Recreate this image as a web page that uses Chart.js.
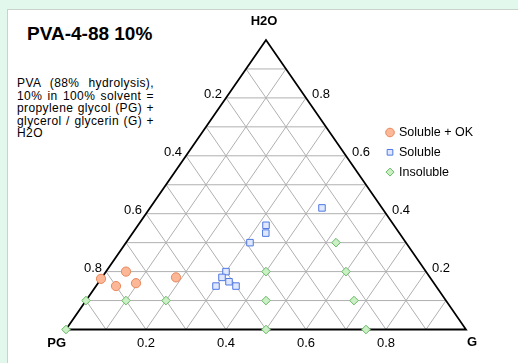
<!DOCTYPE html>
<html>
<head>
<meta charset="utf-8">
<script src="https://cdn.jsdelivr.net/npm/chart.js@4/dist/chart.umd.min.js"></script>
<style>
  html, body { margin: 0; padding: 0; }
  body { width: 518px; height: 363px; background: #e2f8ed; position: relative; overflow: hidden;
         font-family: "Liberation Sans", Arial, Helvetica, sans-serif; color: #000; }
  #panel { position: absolute; left: 7px; top: 9px; right: 0; bottom: 0; background: #fff;
           border-left: 1px solid #c9d2cc; border-top: 1px solid #c9d2cc; }
  #title { position: absolute; left: 27px; top: 23px; font-size: 19px; font-weight: bold; white-space: nowrap; }
  #desc { position: absolute; left: 17px; top: 77px; width: 137px; font-size: 12px; line-height: 12.5px; letter-spacing: 0.4px; }
  #desc div { text-align: justify; text-align-last: justify; white-space: nowrap; }
  #desc div.last { text-align-last: left; }
  #wrap { position: absolute; left: 0; top: 0; width: 518px; height: 363px; }
</style>
</head>
<body>
<div id="panel"></div>
<div id="title">PVA-4-88 10%</div>
<div id="desc">
  <div>PVA (88% hydrolysis),</div>
  <div>10% in 100% solvent =</div>
  <div>propylene glycol (PG) +</div>
  <div>glycerol / glycerin (G) +</div>
  <div class="last">H2O</div>
</div>
<div id="wrap"><canvas id="chart"></canvas></div>
<script>
// composition = fraction of G and H2O, PG is the rest (1 - G - H2O)
const okG = [0, 0.05, 0.05, 0.095, 0.185];
const okH = [0.175, 0.2, 0.15, 0.16, 0.18];

const solubleG = [0.43, 0.32, 0.333, 0.31, 0.3, 0.3, 0.325, 0.3, 0.35];
const solubleH = [0.42, 0.36, 0.333, 0.3, 0.2, 0.18, 0.165, 0.15, 0.15];

const insolubleG = [0, 0, 0.1, 0.2, 0.525, 0.4, 0.6, 0.45, 0.67, 0.5, 0.75];
const insolubleH = [0, 0.1, 0.1, 0.1, 0.3, 0.2, 0.2, 0.1, 0.1, 0, 0];

const seriesNames = ["Soluble + OK", "Soluble", "Insoluble"];
const tickValues = [0.2, 0.4, 0.6, 0.8];
const gridLevels = [0.1, 0.2, 0.3, 0.4, 0.5, 0.6, 0.7, 0.8, 0.9];
const cornerNames = ["PG", "G", "H2O"];

// ternary (g, h) -> plot coords
const tern = (g, h) => ({ x: g + h / 2, y: h });
const toPoints = (gs, hs) => gs.map((g, i) => tern(g, hs[i]));

const gridColor = "#b0b0b0";
let datasets = [];

const pointSet = (label, gs, hs, style, fill, edge, r) => ({
  type: "scatter", label: label, data: toPoints(gs, hs),
  pointStyle: style, pointRadius: r, backgroundColor: fill, borderColor: edge,
  pointBorderWidth: 1, clip: false, order: 1
});
datasets.push(pointSet(seriesNames[0], okG, okH, "circle", "#fbb796", "#e7875c", 4.6));
datasets.push(pointSet(seriesNames[1], solubleG, solubleH, "rect", "#dfe8fe", "#4f78e2", 4.6));
datasets.push(pointSet(seriesNames[2], insolubleG, insolubleH, "rectRot", "#ccf0c6", "#66b964", 4.3));

const lineSet = (pts, color, w, ord) => ({
  type: "line", data: pts, borderColor: color, borderWidth: w, pointRadius: 0,
  fill: false, clip: false, order: ord
});

// grid lines for each component
gridLevels.forEach(c => {
  datasets.push(lineSet([tern(0, c), tern(1 - c, c)], gridColor, 1, 3));   // H2O const
  datasets.push(lineSet([tern(c, 0), tern(c, 1 - c)], gridColor, 1, 3));   // G const
  datasets.push(lineSet([tern(1 - c, 0), tern(0, 1 - c)], gridColor, 1, 3)); // PG const
});
// outer triangle
datasets.push(lineSet([tern(0, 0), tern(1, 0), tern(0, 1), tern(0, 0)], "#000", 1.8, 2));

const labelsPlugin = {
  id: "ternLabels",
  afterDraw(chart) {
    const ctx = chart.ctx;
    const xs = chart.scales.x, ys = chart.scales.y;
    const px = p => [xs.getPixelForValue(p.x), ys.getPixelForValue(p.y)];
    ctx.save();
    ctx.fillStyle = "#000";
    ctx.font = "13px 'Liberation Sans', Arial, sans-serif";
    ctx.textBaseline = "middle";
    tickValues.forEach(v => {
      const t = v.toFixed(1);
      // bottom: G
      let [x, y] = px(tern(v, 0));
      ctx.textAlign = "center";
      ctx.fillText(t, x, y + 14);
      // right: H2O
      [x, y] = px(tern(1 - v, v));
      ctx.textAlign = "left";
      ctx.fillText(t, x + 6, y - 3);
      // left: PG
      [x, y] = px(tern(0, 1 - v));
      ctx.textAlign = "right";
      ctx.fillText(t, x - 4, y - 3);
    });
    ctx.font = "bold 13px 'Liberation Sans', Arial, sans-serif";
    let [x, y] = px(tern(0, 0));
    ctx.textAlign = "right";
    ctx.fillText(cornerNames[0], x, y + 14);
    [x, y] = px(tern(1, 0));
    ctx.textAlign = "left";
    ctx.fillText(cornerNames[1], x + 1, y + 13);
    [x, y] = px(tern(0, 1));
    ctx.textAlign = "center";
    ctx.fillText(cornerNames[2], x - 2, y - 19);

    // legend
    ctx.font = "12.5px 'Liberation Sans', Arial, sans-serif";
    ctx.textAlign = "left";
    for (let i = 0; i < 3; i++) {
      const ds = chart.data.datasets[i];
      const ly = 132.5 + i * 19.8;
      ctx.fillStyle = ds.backgroundColor;
      ctx.strokeStyle = ds.borderColor;
      ctx.lineWidth = 1;
      Chart.helpers.drawPoint(ctx, { pointStyle: ds.pointStyle, radius: i === 0 ? 4.3 : 4, borderWidth: 1 }, 390, ly);
      ctx.fillStyle = "#000";
      ctx.fillText(ds.label, 399, ly);
    }
    ctx.restore();
  }
};

new Chart(document.getElementById("chart"), {
  data: { datasets: datasets },
  options: {
    responsive: true,
    maintainAspectRatio: false,
    animation: false,
    events: [],
    layout: { padding: { left: 66, right: 52, top: 40, bottom: 33.5 } },
    scales: {
      x: { type: "linear", min: 0, max: 1, display: false },
      y: { type: "linear", min: 0, max: 1, display: false }
    },
    plugins: { legend: { display: false }, tooltip: { enabled: false } }
  },
  plugins: [labelsPlugin]
});
</script>
</body>
</html>
